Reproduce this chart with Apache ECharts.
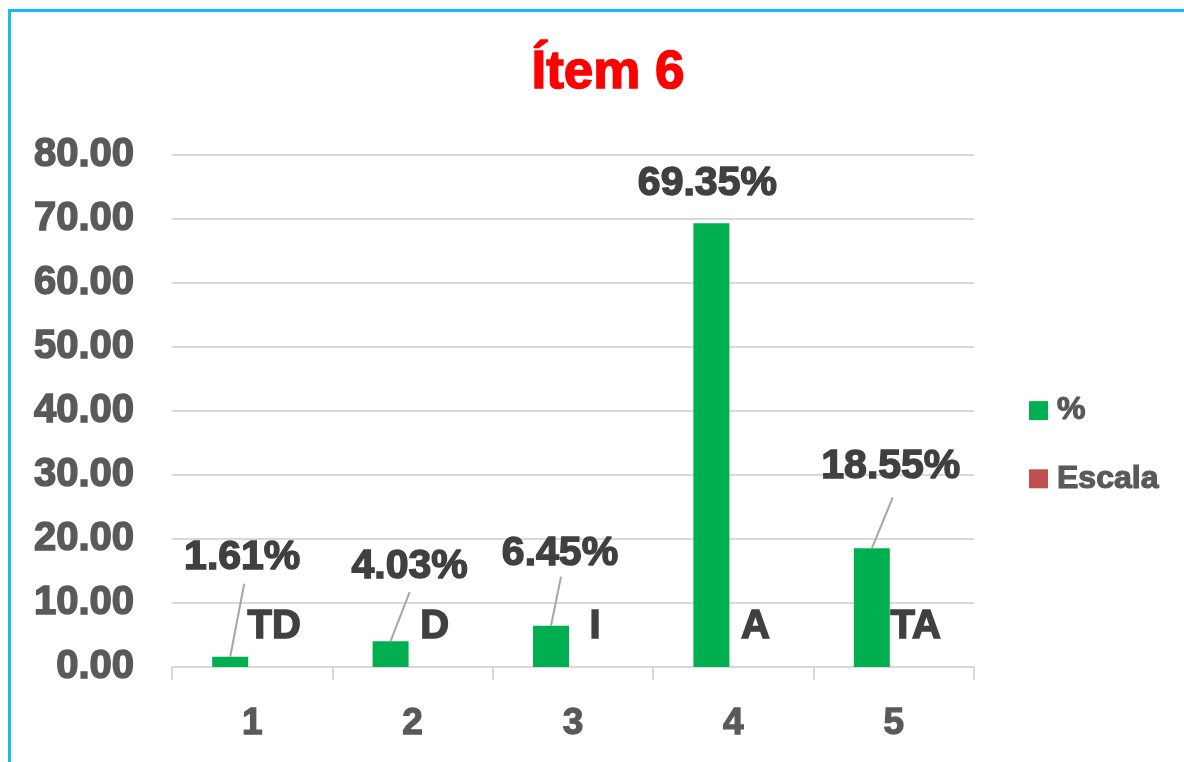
<!DOCTYPE html>
<html>
<head>
<meta charset="utf-8">
<script src="https://cdn.jsdelivr.net/npm/echarts@6/dist/echarts.min.js"></script>
<style>
html,body{margin:0;padding:0;background:#fff;}
#chart{width:1184px;height:762px;}
</style>
</head>
<body>
<div id="chart"></div>
<script>
var titleText = 'Ítem 6';
var categories = ['1', '2', '3', '4', '5'];
var percentValues = [1.61, 4.03, 6.45, 69.35, 18.55];
var escalaValues = [0, 0, 0, 0, 0];
var escalaLabels = ['TD', 'D', 'I', 'A', 'TA'];
var yTicks = [0, 10, 20, 30, 40, 50, 60, 70, 80];

// label offsets and leader-line geometry (style only)
var labelDx = [12, 19, 9, -4, 19];
var labelDy = [-74, -49, -47, -14, -56];
var showLeader = [true, true, true, false, true];
var leaderDx = [14, 19, 10, 0, 21];
var leaderDy = [-73, -49, -49, 0, -51];
var BAR_WIDTH = 36;
var BAR_GAP = 8;

var chart = echarts.init(document.getElementById('chart'), null, {renderer: 'canvas'});
var font = '"Liberation Sans", Arial, sans-serif';

var leaderData = percentValues.map(function (v, i) { return [i, v]; });

var option = {
  animation: false,
  backgroundColor: '#ffffff',
  title: {
    text: titleText,
    left: 603,
    textAlign: 'center',
    top: 42,
    textStyle: {color: '#FF0000', fontFamily: font, fontWeight: 'bold', fontSize: 53,
      textBorderColor: '#FF0000', textBorderWidth: 1.5}
  },
  graphic: [{
    type: 'rect',
    shape: {x: 9.5, y: 10.5, width: 1200, height: 800},
    style: {fill: 'none', stroke: '#1DB8F2', lineWidth: 3},
    silent: true
  }],
  legend: {
    orient: 'vertical',
    left: 1024,
    top: 389,
    itemWidth: 19,
    itemHeight: 19,
    itemGap: 35,
    icon: 'rect',
    data: ['%', 'Escala'],
    textStyle: {color: '#595959', fontFamily: font, fontWeight: 'bold', fontSize: 32, lineHeight: 32,
      padding: [0, 0, 0, 4],
      textBorderColor: '#595959', textBorderWidth: 1.2}
  },
  grid: {left: 172, right: 210, top: 155, bottom: 95, containLabel: false},
  xAxis: {
    type: 'category',
    data: categories,
    axisLine: {lineStyle: {color: '#D9D9D9', width: 2}},
    axisTick: {show: true, length: 13, lineStyle: {color: '#D9D9D9', width: 2}},
    axisLabel: {color: '#595959', fontFamily: font, fontWeight: 'bold', fontSize: 37, margin: 38,
      textBorderColor: '#595959', textBorderWidth: 1.3}
  },
  yAxis: {
    type: 'value',
    min: yTicks[0],
    max: yTicks[yTicks.length - 1],
    interval: 10,
    axisLine: {show: false},
    axisTick: {show: false},
    splitLine: {lineStyle: {color: '#D9D9D9', width: 2}},
    axisLabel: {color: '#595959', fontFamily: font, fontWeight: 'bold', fontSize: 40, margin: 38,
      textBorderColor: '#595959', textBorderWidth: 1.5,
      formatter: function (v) { return v.toFixed(2); }}
  },
  series: [{
    name: '%',
    type: 'bar',
    data: percentValues,
    barWidth: BAR_WIDTH,
    barGap: (BAR_GAP / BAR_WIDTH * 100) + '%',
    itemStyle: {color: '#00B050'},
    label: {
      show: true,
      position: 'top',
      distance: 5,
      color: '#404040',
      fontFamily: font,
      fontWeight: 'bold',
      fontSize: 41,
      textBorderColor: '#404040',
      textBorderWidth: 1.5,
      formatter: function (p) { return p.value.toFixed(2) + '%'; }
    },
    labelLayout: function (p) {
      return {dx: labelDx[p.dataIndex], dy: labelDy[p.dataIndex]};
    }
  }, {
    name: 'Escala',
    type: 'bar',
    data: escalaValues,
    barWidth: BAR_WIDTH,
    itemStyle: {color: '#C0504D'},
    label: {
      show: true,
      position: 'top',
      distance: 20,
      color: '#404040',
      fontFamily: font,
      fontWeight: 'bold',
      fontSize: 40,
      textBorderColor: '#404040',
      textBorderWidth: 1.5,
      formatter: function (p) { return escalaLabels[p.dataIndex]; }
    }
  }, {
    name: 'leaders',
    type: 'custom',
    silent: true,
    z: 5,
    data: leaderData,
    renderItem: function (params, api) {
      var i = params.dataIndex;
      if (!showLeader[i]) return null;
      var p = api.coord([api.value(0), api.value(1)]);
      var x0 = p[0] - (BAR_WIDTH + BAR_GAP) / 2;
      var y0 = p[1];
      return {
        type: 'line',
        shape: {x1: x0, y1: y0, x2: x0 + leaderDx[i], y2: y0 + leaderDy[i]},
        style: {stroke: '#A6A6A6', lineWidth: 2}
      };
    }
  }]
};
chart.setOption(option);
</script>
</body>
</html>
